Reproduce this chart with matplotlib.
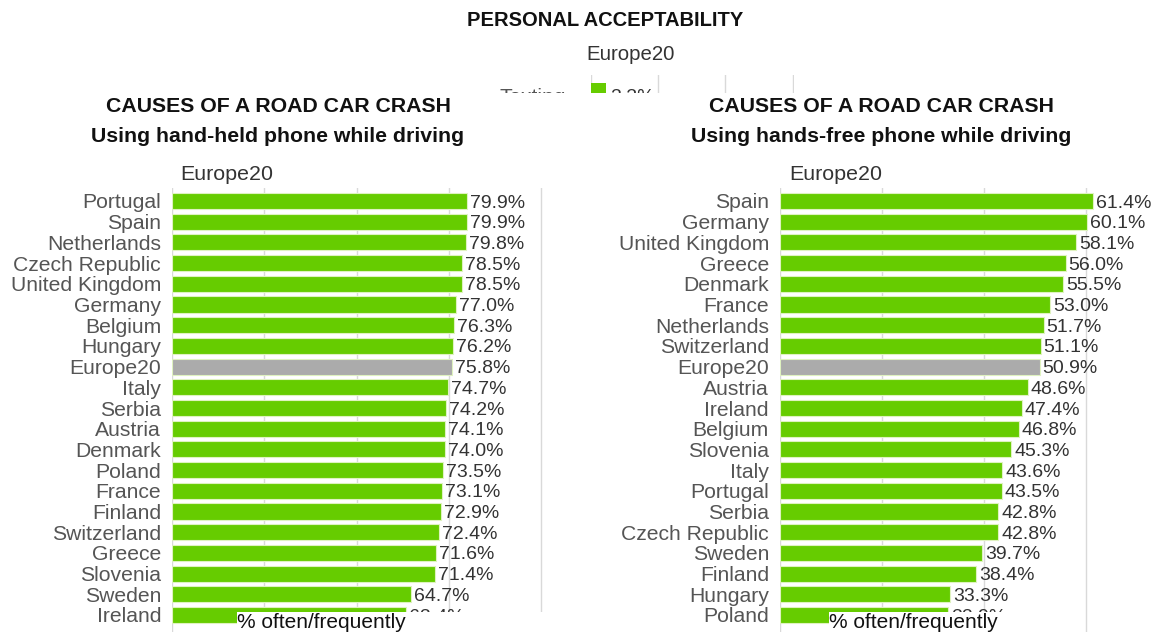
import matplotlib
matplotlib.use("Agg")
from matplotlib import pyplot as plt
from matplotlib.patches import Rectangle

plt.rcParams['font.family'] = ['Liberation Sans', 'DejaVu Sans']

# data
handheld_countries = ["Portugal", "Spain", "Netherlands", "Czech Republic", "United Kingdom",
                      "Germany", "Belgium", "Hungary", "Europe20", "Italy", "Serbia", "Austria",
                      "Denmark", "Poland", "France", "Finland", "Switzerland", "Greece",
                      "Slovenia", "Sweden", "Ireland"]
handheld_values = [79.9, 79.9, 79.8, 78.5, 78.5, 77.0, 76.3, 76.2, 75.8, 74.7, 74.2, 74.1,
                   74.0, 73.5, 73.1, 72.9, 72.4, 71.6, 71.4, 64.7, 63.4]

handsfree_countries = ["Spain", "Germany", "United Kingdom", "Greece", "Denmark", "France",
                       "Netherlands", "Switzerland", "Europe20", "Austria", "Ireland", "Belgium",
                       "Slovenia", "Italy", "Portugal", "Serbia", "Czech Republic", "Sweden",
                       "Finland", "Hungary", "Poland"]
handsfree_values = [61.4, 60.1, 58.1, 56.0, 55.5, 53.0, 51.7, 51.1, 50.9, 48.6, 47.4, 46.8,
                    45.3, 43.6, 43.5, 42.8, 42.8, 39.7, 38.4, 33.3, 32.9]

top_labels = ["Texting"]
top_values = [3.3]

W, H = 1153, 632
GREEN = "#66cc00"
GREY_BAR = "#ababab"


def fx(x):
    return x / W


def fy(y):
    return 1 - y / H


def ax_px(left, top, width, height, **kw):
    return fig.add_axes([fx(left), fy(top + height), width / W, height / H], **kw)


fig = plt.figure(figsize=(W / 100, H / 100), dpi=100)

# top chart (mostly hidden behind the two panels)
fig.text(fx(605), fy(20), "PERSONAL ACCEPTABILITY", ha="center", va="center",
         fontsize=14.5, fontweight="bold", color="#111111")
fig.text(fx(631), fy(55), "Europe20", ha="center", va="center", fontsize=14.7, color="#333333")

ax0 = ax_px(591, 75, 45 * 4.5, 60, zorder=-2)
ax0.barh(range(len(top_values)), top_values, height=0.9, color=GREEN)
ax0.set_xlim(0, 45.2)
ax0.set_ylim(2, -0.8)
ax0.set_xticks([0, 15, 30, 45])
ax0.set_xticklabels([])
ax0.set_yticks([])
ax0.tick_params(length=0)
ax0.grid(axis="x", color="#d9d9d9", lw=1)
ax0.set_axisbelow(True)
for s in ax0.spines.values():
    s.set_visible(False)
for i, (lab, v) in enumerate(zip(top_labels, top_values)):
    ax0.text(-5.5, i + 0.25, lab, ha="right", va="center", fontsize=15, color="#555555")
    ax0.text(v + 1, i + 0.25, f"{v:.1f}%", ha="left", va="center", fontsize=14, color="#333333")

# white cover for the pasted panels
fig.add_artist(Rectangle((0, 0), 1, fy(93), transform=fig.transFigure,
                         facecolor="white", edgecolor="none", zorder=-1))


def panel(left, scale, xmax, step, countries, values, title_x, subtitle, label_x, europe_x):
    n = len(values)
    row = 20.7
    top, bottom = 188, H
    ax = ax_px(left, top, xmax * scale, bottom - top)
    colors = [GREY_BAR if c == "Europe20" else GREEN for c in countries]
    ax.barh(range(n), values, height=0.78, color=colors, edgecolor="#dff2c0", lw=0.8)
    ax.set_xlim(0, xmax)
    ax.set_ylim((bottom - 201) / row, (top - 201) / row)
    ax.set_xticks(range(0, int(xmax) + 1, step))
    ax.set_xticklabels([])
    ax.set_yticks(range(n))
    ax.set_yticklabels(countries, fontsize=15.2, color="#555555")
    ax.tick_params(length=0, axis="y", pad=(left - label_x) * 0.72)
    ax.tick_params(length=0, axis="x")
    ax.grid(axis="x", color="#d9d9d9", lw=1)
    ax.set_axisbelow(True)
    for s in ax.spines.values():
        s.set_visible(False)
    for i, v in enumerate(values):
        ax.text(v + 3 / scale, i + 0.1, f"{v:.1f}%", ha="left", va="center",
                fontsize=14, color="#333333")

    fig.text(fx(title_x), fy(106), "CAUSES OF A ROAD CAR CRASH", ha="center", va="center",
             fontsize=15.3, fontweight="bold", color="#111111")
    fig.text(fx(title_x), fy(137), subtitle, ha="center", va="center",
             fontsize=15.3, fontweight="bold", color="#111111")
    fig.text(fx(europe_x), fy(174), "Europe20", ha="left", va="center",
             fontsize=15.4, color="#333333")
    return ax


panel(172, 3.69, 100.5, 25, handheld_countries, handheld_values,
      278, "Using hand-held phone while driving", 161, 180)
panel(780, 5.1, 80, 20, handsfree_countries, handsfree_values,
      881, "Using hands-free phone while driving", 769, 789)

# white bands holding the axis titles, covering the last row
for x0, x1, cx in ((237, 560, 321), (829, 1075, 915)):
    fig.add_artist(Rectangle((fx(x0), 0), (x1 - x0) / W, fy(612), transform=fig.transFigure,
                             facecolor="white", edgecolor="none", zorder=4))
    fig.text(fx(x0), fy(623), "% often/frequently", ha="left", va="center",
             fontsize=15, color="#111111", zorder=5)

fig.savefig("out.png", dpi=100)
